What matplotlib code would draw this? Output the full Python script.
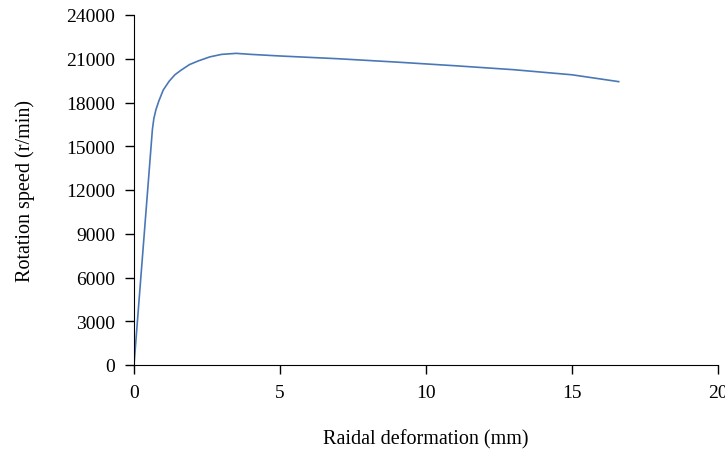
import matplotlib.pyplot as plt

plt.rcParams['font.family'] = ['Liberation Serif', 'DejaVu Serif']

deform = [0, 0.63, 0.68, 0.75, 0.85, 1.0, 1.2, 1.4, 1.6, 1.9, 2.2, 2.6, 3.0, 3.5,
          4.0, 5.0, 7.0, 9.0, 11.0, 13.0, 15.0, 16.6]
speed = [0, 16150, 16900, 17500, 18100, 18850, 19450, 19900, 20200, 20600, 20850,
         21130, 21300, 21370, 21300, 21190, 21000, 20770, 20520, 20250, 19900, 19430]

xticks = [0, 5, 10, 15, 20]
yticks = [0, 3000, 6000, 9000, 12000, 15000, 18000, 21000, 24000]

fig = plt.figure(figsize=(7.25, 4.56), dpi=100)
ax = fig.add_axes([134/725, 1 - 366/456, 584/725, 350/456])
ax.plot(deform, speed, color='#4a78b6', lw=1.2)

ax.set_xlim(0, 20)
ax.set_ylim(0, 24000)
ax.set_xticks(xticks)
ax.set_yticks(yticks)
ax.spines['top'].set_visible(False)
ax.spines['right'].set_visible(False)
ax.tick_params(labelsize=14, length=6.5, width=1, direction='out', pad=7)
ax.set_xlabel('Raidal deformation (mm)', fontsize=14.5)
ax.set_ylabel('Rotation speed (r/min)', fontsize=14.5)
ax.xaxis.set_label_coords(0.5, (366 - 440) / 350)
ax.yaxis.set_label_coords((25 - 134) / 584, 0.5)
ax.xaxis.label.set_va('center')
ax.yaxis.label.set_va('center')

plt.savefig('out.png')
